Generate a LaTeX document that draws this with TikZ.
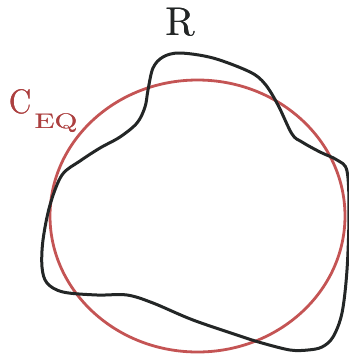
\documentclass[tikz,border=0pt]{standalone}
\usepackage{xcolor}
\usepackage[outline]{contour}
\contourlength{0.5pt}
\contournumber{16}
\definecolor{eqred}{RGB}{196,84,84}
\definecolor{eqtext}{RGB}{172,64,64}
\definecolor{rblack}{RGB}{35,38,38}
\font\rfont=cmr10 at 40pt
\font\cfont=cmr10 at 34pt
\font\eqfont=cmr10 at 21pt
\begin{document}
\begin{tikzpicture}[x=1pt,y=-1pt,
  eqcircle/.style={draw=eqred,line width=2.8pt},
  rcurve/.style={draw=rblack,line width=3pt,line join=round},
  lbl/.style={inner sep=0pt,outer sep=0pt}]
\useasboundingbox (0,0) rectangle (349,360);
\draw[eqcircle] (197.5,216) ellipse [x radius=147.5, y radius=136];
\draw[rcurve] plot[smooth cycle,tension=0.55] coordinates {
 (163,57) (180,53) (213,58) (250,72) (265,84) (278,105) (292,134) (302,142)
 (320,152) (337,160) (347,171) (349,213) (347,270) (342,313) (333,337)
 (322,347) (308,350) (290,350) (262,343) (243,337) (193,320) (153,303)
 (127,295) (97,295) (63,292) (47,283) (42,267) (43,240) (50,205) (62,175)
 (80,161) (100,148) (120,137) (137,123) (145,107) (148,90) (153,68)};
\node[lbl,anchor=base,text=rblack] (R) at (180,35) {\contour{rblack}{\rfont R}};
\node[lbl,anchor=base west,text=eqtext] (C) at (9,113)
  {\scalebox{0.92}[1]{\contour{eqtext}{\cfont C}}\kern3pt\raisebox{-15pt}{\scalebox{1.4}[1]{\contour{eqtext}{\eqfont EQ}}}};
\end{tikzpicture}
\end{document}
